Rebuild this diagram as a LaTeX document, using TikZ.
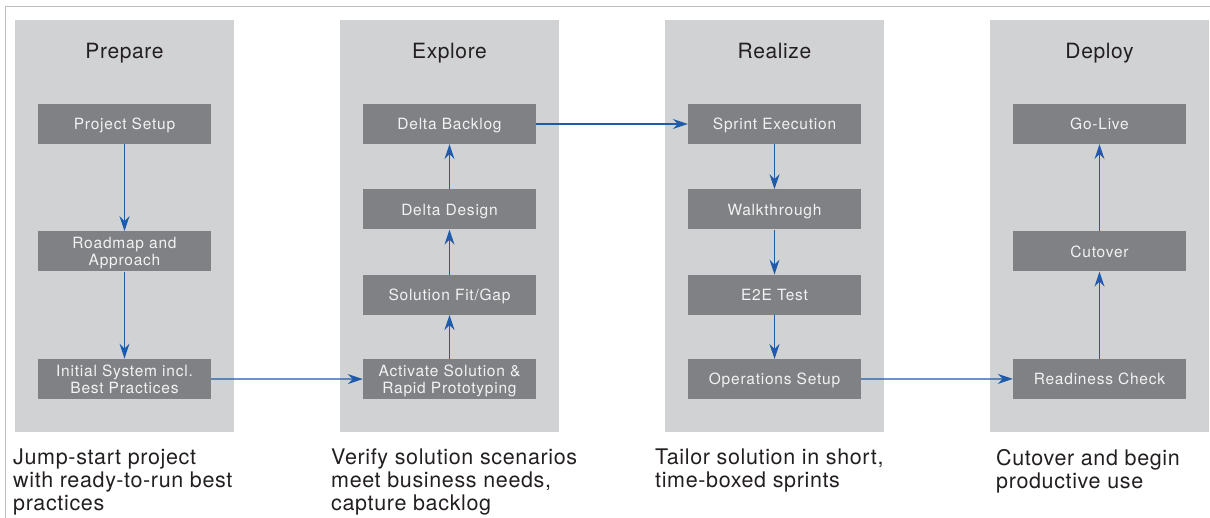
\documentclass[tikz,border=0pt]{standalone}
\usepackage{fontspec}
\setmainfont[LetterSpace=3]{TeX Gyre Heros}
\newfontfamily\taskfont[LetterSpace=5]{TeX Gyre Heros}
\usetikzlibrary{positioning}
\usetikzlibrary{arrows.meta}
\definecolor{phasegray}{HTML}{D1D2D4}
\definecolor{taskgray}{HTML}{808185}
\definecolor{flowblue}{HTML}{1F5BA8}
\definecolor{inkgray}{HTML}{231F20}
\definecolor{framegray}{HTML}{BDBEC0}

\begin{document}
\begin{tikzpicture}[x=1pt,y=-1pt,->,>={Stealth[length=15pt,width=10pt,inset=5pt]},
  phase node/.style={fill=phasegray,inner sep=0pt,minimum width=219pt,
  minimum height=412pt},
  title node/.style={anchor=base,text=inkgray,font=\fontsize{21}{24}\selectfont},
  task node/.style={fill=taskgray,text=white!95!black,inner sep=0pt,
  minimum width=173pt,minimum height=40pt,align=center,text depth=0pt,
  font=\taskfont\fontsize{15.5}{17}\selectfont},
  note node/.style={anchor=north west,inner sep=0pt,align=left,text=inkgray,
  font=\fontsize{21.5}{23}\selectfont},
  flow/.style={draw=flowblue,line width=1.2pt}]
  \useasboundingbox (0,0) rectangle (1210,518);
  % frame
  \draw[-,framegray,line width=1pt] (5,518) -- (5,7) -- (1210,7);

  % phases
  \node[phase node] (prep) at (124.5,226) {};
  \node[phase node] (expl) at (449.5,226) {};
  \node[phase node] (real) at (774.5,226) {};
  \node[phase node] (depl) at (1099.5,226) {};
  \node[title node] (prepT) at (124.5,58.5) {Prepare};
  \node[title node] (explT) at (449.5,58.5) {Explore};
  \node[title node] (realT) at (774.5,58.5) {Realize};
  \node[title node] (deplT) at (1099.5,58.5) {Deploy};

  % Prepare
  \node[task node] (PS) at (124.5,124) {Project Setup};
  \node[task node] (RA) [below=87pt of PS] {Roadmap and\\Approach};
  \node[task node] (IS) [below=87pt of RA] {Initial System incl.\\Best Practices};
  % Explore
  \node[task node] (DB) at (449.5,124) {Delta Backlog};
  \node[task node] (DD) [below=45pt of DB] {Delta Design};
  \node[task node] (SF) [below=45pt of DD] {Solution Fit/Gap};
  \node[task node] (AS) [below=44pt of SF] {Activate Solution \&\\Rapid Prototyping};
  % Realize
  \node[task node] (SE) at (774.5,124) {Sprint Execution};
  \node[task node] (WT) [below=45pt of SE] {Walkthrough};
  \node[task node] (ET) [below=45pt of WT] {E2E Test};
  \node[task node] (OS) [below=44pt of ET] {Operations Setup};
  % Deploy
  \node[task node] (GL) at (1099.5,124) {Go-Live};
  \node[task node] (CO) [below=87pt of GL] {Cutover};
  \node[task node] (RC) [below=87pt of CO] {Readiness Check};

  \path[every edge/.style={flow}]
    (PS) edge (RA)
    (RA) edge (IS)
    (IS) edge (AS)
    (AS) edge (SF)
    (SF) edge (DD)
    (DD) edge (DB)
    (DB) edge (SE)
    (SE) edge (WT)
    (WT) edge (ET)
    (ET) edge (OS)
    (OS) edge (RC)
    (RC) edge (CO)
    (CO) edge (GL);

  % notes below the phases
  \node[note node] (prepN) at (13,449) {Jump-start project\\with ready-to-run best\\practices};
  \node[note node] (explN) at (331,449) {Verify solution scenarios\\meet business needs,\\capture backlog};
  \node[note node] (realN) at (655,449) {Tailor solution in short,\\time-boxed sprints};
  \node[note node] (deplN) at (996,449) {Cutover and begin\\productive use};
\end{tikzpicture}
\end{document}
